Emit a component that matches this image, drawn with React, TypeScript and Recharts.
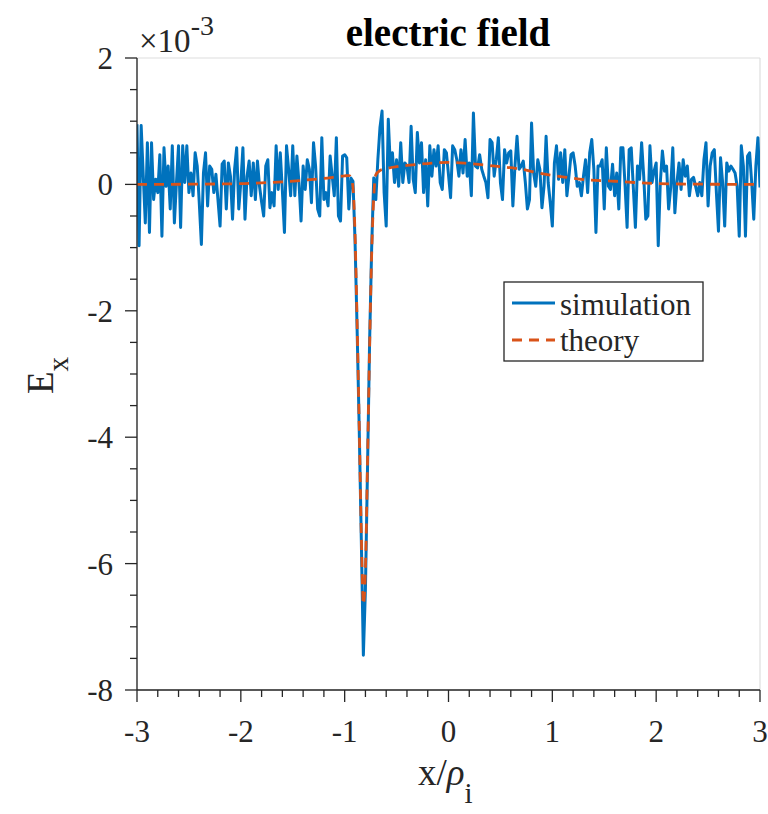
import { CartesianGrid, Line, LineChart, XAxis, YAxis } from "recharts";

// E_x in units of 1e-3, sampled uniformly on x ∈ [-3, 3]
const simulationValues = [
  0.95, -0.97, 0.93, 0.15, -0.61, 0.66, -0.76, 0.66, -0.24, 0.08,
  -0.13, 0.47, -0.82, 0.58, -0.03, 0.29, -0.39, 0.61, -0.61, 0.03,
  0.61, -0.68, 0.61, 0.03, 0.61, -0.13, 0.18, -0.18, 0.5, 0.29,
  -0.3, -0.95, 0.18, 0.5, -0.34, 0.29, 0.24, -0.13, 0.16, -0.25,
  -0.66, 0.32, 0.37, -0.39, 0.34, 0.13, -0.55, 0.24, 0.58, -0.39,
  0.03, 0.58, -0.55, 0.13, 0.37, -0.18, 0.34, -0.24, 0.37, -0.03,
  -0.28, -0.5, 0.29, 0.39, -0.37, -0.13, -0.34, 0.61, -0.08, 0.5,
  -0.1, -0.76, 0.61, 0.24,
  -0.18, 0.61, -0.18, 0.45, 0.03, -0.58, 0.29, -0.08, 0.39, 0.24,
  -0.29, 0.66, 0.29, -0.39, -0.5, 0.74, -0.24, -0.13, -0.34, 0.45,
  0.13, -0.18, 0.74, -0.5, -0.58, 0.45, 0.47, 0.42, -0.39,
  0.1, 0.05, -0.9, -2.3, -3.85, -5.6, -7.45, -6.4, -4.5, -2.5,
  -1.0, 0.1, -0.24, 0.4, 0.9, 1.16,
  -0.13, -0.66, 1.03, 0.29, 0.5, 0.03, 0.39, -0.03, 0.66, 0.03,
  0.34, 0.29, 0.03, 0.92, 0.08, -0.13, 0.82, 0.34, 0.66, -0.13,
  0.39, -0.34, 0.61, 0.13, 0.55, 0.29, 0.61, 0.03,
  -0.08, 0.55, 0.5, 0.15, -0.21, 0.61, 0.55, 0.39, 0.13, 0.55,
  0.18, 0.71, 0.13, 0.34, -0.18, 1.13, 0.29, 0.26, 0.47, 0.24,
  0.13, 0.03, -0.21, 0.71, 0.66, 0.13, 0.39, 0.74, 0.03, -0.24,
  0.55, 0.34, 0.5, 0.53, -0.34, 0.29, 0.76, 0.24, 0.29, 0.37,
  0.03, -0.39, -0.24, 0.97, 0.18, -0.03, 0.39, 0.24, -0.37, -0.03,
  0.76, 0.03, -0.29, -0.66, 0.34, 0.61, 0.08, 0.5, 0.03, 0.55,
  -0.18, 0.13, 0.47, 0.5, 0.29, -0.03, 0.03, -0.18, 0.13, 0.39,
  -0.13, 0.5, 0.71, 0.24, -0.76, 0.29,
  0.29, 0.39, -0.39, 0.58, -0.03, -0.08, 0.32, -0.18, 0.18, -0.39,
  0.58, 0.58, 0.0, -0.68, 0.55, 0.58, -0.05, -0.68, 0.29, 0.08,
  0.66, 0.13, -0.55, -0.5, 0.61, 0.03, 0.21, 0.34, -0.97, 0.03,
  0.53, 0.21, 0.29, -0.39, -0.05, 0.58, -0.45, 0.03, 0.34, -0.08,
  0.39, 0.13, 0.29, -0.18, 0.08, 0.11, -0.03, -0.18, 0.03, -0.18,
  0.39, 0.66, -0.34, 0.29, 0.5, 0.55, -0.13, -0.74, 0.42, 0.03,
  -0.66, 0.34, 0.21, 0.29, 0.24, 0.18, -0.03, -0.82, 0.61, 0.29,
  -0.82, 0.45, 0.5, 0.03, -0.55, 0.29, 0.74, -0.05,
];

const theoryX = [
  -3, -2.5, -2, -1.8, -1.6, -1.4, -1.2, -1.0, -0.96, -0.94,
  -0.92, -0.9, -0.88, -0.86, -0.84, -0.82, -0.8, -0.78, -0.76, -0.74,
  -0.72, -0.7, -0.66, -0.6, -0.5, -0.4, -0.2, 0, 0.2, 0.45,
  0.7, 0.9, 1.1, 1.35, 1.6, 1.8, 2.0, 2.3, 2.6, 3.0,
];
const theoryY = [
  0, 0.003, 0.012, 0.025, 0.04, 0.065, 0.095, 0.135, 0.14, 0.11,
  -0.05, -0.8, -2.2, -3.8, -5.5, -6.65, -6.1, -4.4, -2.6, -1.1,
  -0.2, 0.15, 0.22, 0.25, 0.28, 0.3, 0.33, 0.35, 0.33, 0.29,
  0.24, 0.17, 0.12, 0.07, 0.05, 0.03, 0.015, 0.005, 0.002, 0,
];

const xMajorTicks = [-3, -2, -1, 0, 1, 2, 3];
const yMajorTicks = [-8, -6, -4, -2, 0, 2];
const xMinorStep = 0.2;
const yMinorStep = 0.5;

const X_MIN = -3;
const X_MAX = 3;
const Y_MIN = -8;
const Y_MAX = 2;

const FONT = '"Liberation Serif", "Times New Roman", serif';
const AXIS_COLOR = "#262626";
const BLUE = "#0072BD";
const ORANGE = "#D95319";

const simStep = (X_MAX - X_MIN) / (simulationValues.length - 1);
const simulationData = simulationValues.map((y, i) => ({ x: X_MIN + i * simStep, y }));
const theoryData = theoryX.map((x, i) => ({ x, y: theoryY[i] }));

const xTicks = Array.from({ length: Math.round((X_MAX - X_MIN) / xMinorStep) + 1 }, (_, i) =>
  +(X_MIN + i * xMinorStep).toFixed(2)
);
const yTicks = Array.from({ length: Math.round((Y_MAX - Y_MIN) / yMinorStep) + 1 }, (_, i) =>
  +(Y_MIN + i * yMinorStep).toFixed(2)
);

const isMajor = (v: number, majors: number[]) => majors.some((m) => Math.abs(m - v) < 1e-6);

function XTick(props: any) {
  const { x, y, payload } = props;
  const major = isMajor(payload.value, xMajorTicks);
  return (
    <g>
      <line x1={x} x2={x} y1={y} y2={y + (major ? 12 : 7)} stroke={AXIS_COLOR} strokeWidth={1.3} />
      {major && (
        <text x={x} y={y + 52} textAnchor="middle" fontFamily={FONT} fontSize={31} fill={AXIS_COLOR}>
          {String(payload.value)}
        </text>
      )}
    </g>
  );
}

function YTick(props: any) {
  const { x, y, payload } = props;
  const major = isMajor(payload.value, yMajorTicks);
  return (
    <g>
      <line x1={x} x2={x - (major ? 12 : 7)} y1={y} y2={y} stroke={AXIS_COLOR} strokeWidth={1.3} />
      {major && (
        <text x={x - 24} y={y + 11} textAnchor="end" fontFamily={FONT} fontSize={31} fill={AXIS_COLOR}>
          {String(payload.value)}
        </text>
      )}
    </g>
  );
}

export default function App() {
  return (
    <div style={{ position: "absolute", left: 0, top: 0, width: 768, height: 814, background: "#fff" }}>
      <LineChart width={768} height={814} margin={{ top: 58, right: 8, bottom: 0, left: 0 }}>
        <XAxis xAxisId="grid" type="number" dataKey="x" domain={[X_MIN, X_MAX]} ticks={xMajorTicks} hide />
        <YAxis yAxisId="grid" type="number" domain={[Y_MIN, Y_MAX]} ticks={yMajorTicks} hide />
        <CartesianGrid xAxisId="grid" yAxisId="grid" stroke="#dedede" strokeWidth={1.2} />
        <XAxis
          type="number"
          dataKey="x"
          domain={[X_MIN, X_MAX]}
          ticks={xTicks}
          interval={0}
          height={124}
          tickSize={0}
          tickMargin={0}
          tickLine={false}
          tick={(p: any) => <XTick {...p} />}
          axisLine={{ stroke: AXIS_COLOR, strokeWidth: 1.3 }}
          allowDataOverflow
        />
        <YAxis
          type="number"
          domain={[Y_MIN, Y_MAX]}
          ticks={yTicks}
          interval={0}
          width={137}
          tickSize={0}
          tickMargin={0}
          tickLine={false}
          tick={(p: any) => <YTick {...p} />}
          axisLine={{ stroke: AXIS_COLOR, strokeWidth: 1.3 }}
          allowDataOverflow
        />
        <Line
          data={simulationData}
          dataKey="y"
          type="linear"
          stroke={BLUE}
          strokeWidth={3}
          strokeLinejoin="round"
          dot={false}
          isAnimationActive={false}
        />
        <Line
          data={theoryData}
          dataKey="y"
          type="monotone"
          stroke={ORANGE}
          strokeWidth={2.8}
          strokeDasharray="10 7"
          dot={false}
          isAnimationActive={false}
        />
      </LineChart>

      <svg
        width={768}
        height={814}
        style={{ position: "absolute", left: 0, top: 0, pointerEvents: "none" }}
        fontFamily={FONT}
        fill={AXIS_COLOR}
      >
        <text x={448} y={46} textAnchor="middle" fontSize={39} fontWeight="bold" fill="#000">
          electric field
        </text>
        <text x={139} y={52} fontSize={33}>
          ×10
          <tspan fontSize={28} dy={-17}>-3</tspan>
        </text>
        <text transform="translate(53, 394) rotate(-90)" fontSize={37}>
          E
          <tspan fontSize={29} dy={15}>x</tspan>
        </text>
        <text x={418} y={785} fontSize={37}>
          x/
          <tspan fontStyle="italic">ρ</tspan>
          <tspan fontSize={29} dy={18}>i</tspan>
        </text>

        <rect x={504} y={282} width={199} height={79} fill="#fff" stroke={AXIS_COLOR} strokeWidth={1.3} />
        <line x1={512} x2={555} y1={303} y2={303} stroke={BLUE} strokeWidth={3} />
        <text x={560} y={315} fontSize={31}>simulation</text>
        <line x1={512} x2={555} y1={340} y2={340} stroke={ORANGE} strokeWidth={2.8} strokeDasharray="10 7" />
        <text x={560} y={351} fontSize={31}>theory</text>
      </svg>
    </div>
  );
}
